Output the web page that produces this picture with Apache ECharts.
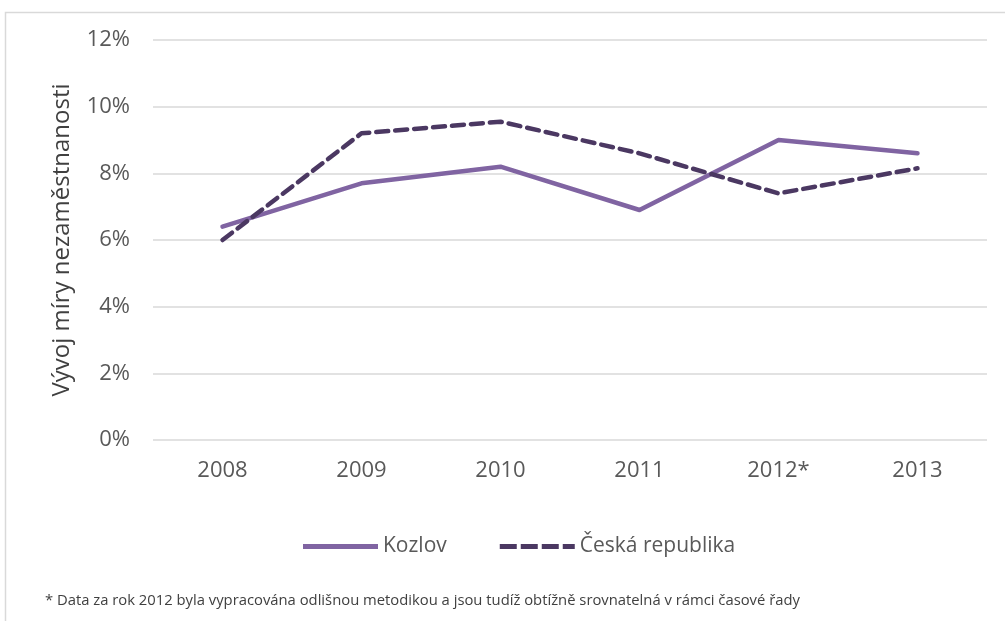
<!DOCTYPE html>
<html>
<head>
<meta charset="utf-8">
<script src="https://cdn.jsdelivr.net/npm/echarts@6/dist/echarts.min.js"></script>
<style>
  html, body { margin: 0; padding: 0; background: #fff; }
  #chart { width: 1005px; height: 621px; }
</style>
</head>
<body>
<div id="chart"></div>
<script>
var years = ['2008', '2009', '2010', '2011', '2012*', '2013'];
var kozlov = [6.4, 7.7, 8.2, 6.9, 9.0, 8.6];
var ceskaRepublika = [6.0, 9.2, 9.55, 8.6, 7.4, 8.15];
var seriesNames = ['Kozlov', 'Česká republika'];
var footnote = '* Data za rok 2012 byla vypracována odlišnou metodikou a jsou tudíž obtížně srovnatelná v rámci časové řady';

var font = '"Open Sans", "Liberation Sans", sans-serif';
var myChart = echarts.init(document.getElementById('chart'));

var option = {
    animation: false,
    textStyle: { fontFamily: font },
    graphic: [
        {
            type: 'rect',
            shape: { x: 5.5, y: 12.5, width: 1100, height: 800 },
            style: { fill: 'none', stroke: '#d9d9d9', lineWidth: 1.5 },
            silent: true
        },
        {
            type: 'text',
            left: 45,
            top: 593,
            style: { text: footnote, fontSize: 14.8, fill: '#404040', fontFamily: font }
        }
    ],
    grid: { left: 153, right: 18, top: 40, bottom: 181 },
    legend: {
        data: [
            { name: seriesNames[0], icon: 'path://M0,0h75v5h-75z' },
            { name: seriesNames[1], icon: 'path://M0,0h17v5h-17zM21,0h17v5h-17zM42,0h17v5h-17zM63,0h12v5h-12z' }
        ],
        top: 531,
        left: 298,
        itemWidth: 75,
        itemHeight: 5,
        itemGap: 53,
        textStyle: { fontSize: 21, color: '#595959', fontFamily: font }
    },
    xAxis: {
        type: 'category',
        data: years,
        axisLine: { show: false },
        axisTick: { show: false },
        axisLabel: { fontSize: 22, color: '#595959', margin: 20 }
    },
    yAxis: {
        type: 'value',
        min: 0,
        max: 12,
        interval: 2,
        name: 'Vývoj míry nezaměstnanosti',
        nameLocation: 'middle',
        nameGap: 79,
        nameTextStyle: { fontSize: 24, color: '#404040' },
        axisLabel: {
            fontSize: 22,
            color: '#595959',
            margin: 23,
            formatter: '{value}%'
        },
        splitLine: { lineStyle: { color: '#d9d9d9', width: 1.5 } }
    },
    series: [
        {
            name: seriesNames[0],
            type: 'line',
            data: kozlov,
            symbol: 'none',
            lineStyle: { color: '#8064a2', width: 4.5, cap: 'round', join: 'round' },
            itemStyle: { color: '#8064a2' }
        },
        {
            name: seriesNames[1],
            type: 'line',
            data: ceskaRepublika,
            symbol: 'none',
            lineStyle: { color: '#4b3862', width: 4.5, type: [12, 7], cap: 'round', join: 'round' },
            itemStyle: { color: '#4b3862' }
        }
    ]
};
myChart.setOption(option);
</script>
</body>
</html>
